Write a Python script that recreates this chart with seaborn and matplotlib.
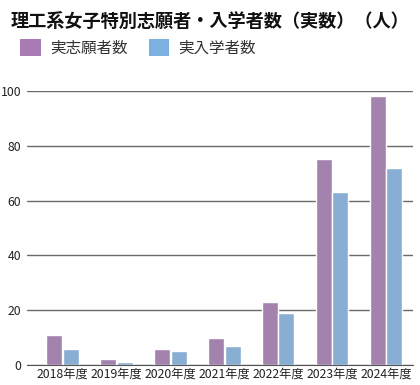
import matplotlib
matplotlib.use('Agg')
import matplotlib.pyplot as plt
import seaborn as sns
import pandas as pd
from matplotlib.patches import Patch

# データ
years = ['2018年度', '2019年度', '2020年度', '2021年度', '2022年度', '2023年度', '2024年度']
applicants = [11, 2, 6, 10, 23, 75, 98]
enrolled = [6, 1, 5, 7, 19, 63, 72]
series = ['実志願者数', '実入学者数']
colors = ['#a87bb5', '#7bb0df']
yticks = [0, 20, 40, 60, 80, 100]

df = pd.DataFrame({
    'year': years * 2,
    'value': applicants + enrolled,
    'series': [series[0]] * len(years) + [series[1]] * len(years),
})

sns.set_style('white')
plt.rcParams['font.family'] = ['Noto Sans CJK JP', 'DejaVu Sans']

fig = plt.figure(figsize=(4.2, 3.85), dpi=100)
ax = fig.add_axes([0.064, 0.052, 0.919, 0.712])

sns.barplot(data=df, x='year', y='value', hue='series', palette=colors,
            width=0.62, gap=0.04, ax=ax, legend=False, zorder=3)

ax.set_ylim(0, 100)
ax.set_xlim(-0.66, 6.5)
ax.set_yticks(yticks)
ax.yaxis.grid(True, color='#6a6a6a', linewidth=1, zorder=0)
ax.set_xlabel('')
ax.set_ylabel('')
for s in ['top', 'right', 'left']:
    ax.spines[s].set_visible(False)
ax.spines['bottom'].set_color('#555555')
ax.spines['bottom'].set_zorder(4)
ax.tick_params(axis='both', length=0, labelsize=8.8, colors='#222222', pad=2)
ax.tick_params(axis='y', pad=4)

# タイトル
fig.text(0.026, 0.945, '理工系女子特別志願者・入学者数（実数）（人）',
         fontsize=13.1, fontweight='bold', ha='left', va='center', color='#111111')

# 凡例
handles = [Patch(facecolor=c, edgecolor='none') for c in colors]
fig.legend(handles, series, loc='center left', bbox_to_anchor=(0.015, 0.875),
           ncol=2, frameon=False, fontsize=11.2, handlelength=1.3, handleheight=1.3,
           handletextpad=0.6, columnspacing=1.4, labelcolor='#333333')

fig.savefig('out.png', dpi=100)
